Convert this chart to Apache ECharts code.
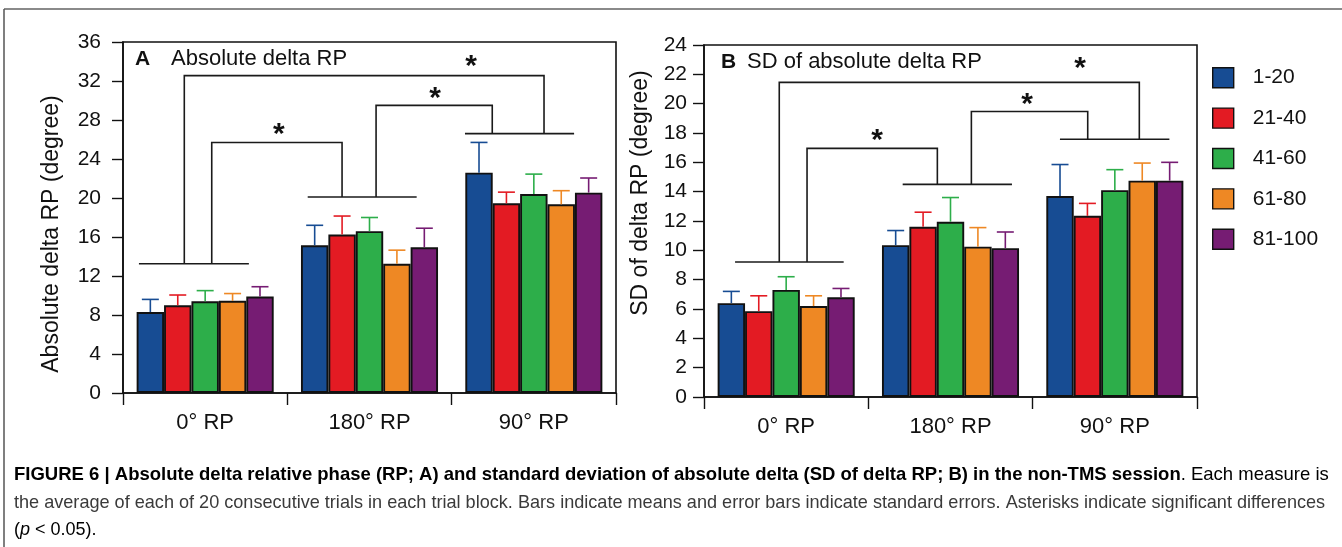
<!DOCTYPE html>
<html>
<head>
<meta charset="utf-8">
<script src="https://cdn.jsdelivr.net/npm/echarts@6/dist/echarts.min.js"></script>
<style>html,body{margin:0;padding:0;background:#fff}#c{width:1342px;height:547px}</style>
</head>
<body>
<div id="c"></div>
<script>
// ---------- data ----------
const categories = ['0° RP', '180° RP', '90° RP'];
const blockNames = ['1-20', '21-40', '41-60', '61-80', '81-100'];
const blockColors = ['#174c93', '#e31b23', '#2dae4a', '#ee8824', '#761c73'];

// Panel A: Absolute delta RP (means, standard errors)
const meanA_1_20   = [8.3, 15.15, 22.6];
const meanA_21_40  = [9.0, 16.25, 19.45];
const meanA_41_60  = [9.4, 16.6, 20.4];
const meanA_61_80  = [9.45, 13.25, 19.35];
const meanA_81_100 = [9.9, 14.95, 20.55];
const seA_1_20   = [1.3, 2.05, 3.1];
const seA_21_40  = [1.05, 1.9, 1.15];
const seA_41_60  = [1.1, 1.4, 2.05];
const seA_61_80  = [0.75, 1.4, 1.4];
const seA_81_100 = [1.0, 1.95, 1.5];

// Panel B: SD of absolute delta RP
const meanB_1_20   = [6.4, 10.35, 13.7];
const meanB_21_40  = [5.85, 11.6, 12.35];
const meanB_41_60  = [7.3, 11.95, 14.1];
const meanB_61_80  = [6.2, 10.25, 14.75];
const meanB_81_100 = [6.8, 10.15, 14.75];
const seB_1_20   = [0.8, 1.0, 2.15];
const seB_21_40  = [1.05, 1.0, 0.85];
const seB_41_60  = [0.9, 1.65, 1.4];
const seB_61_80  = [0.7, 1.3, 1.2];
const seB_81_100 = [0.6, 1.1, 1.25];

// y-axis ticks
const yTicksA = [0, 4, 8, 12, 16, 20, 24, 28, 32, 36];
const yTicksB = [0, 2, 4, 6, 8, 10, 12, 14, 16, 18, 20, 22, 24];

// significance brackets (x in category units, y in data units)
// group lines: [xStart, xEnd, y]
const groupLinesA = [[-0.403, 0.266, 13.26], [0.624, 1.287, 20.1], [1.581, 2.245, 26.6]];
const groupLinesB = [[-0.311, 0.35, 9.2], [0.709, 1.374, 14.5], [1.666, 2.332, 17.57]];
// brackets: [xLeft, yLeftBottom, xRight, yRightBottom, yTop]
const bracketsA = [[0.04, 13.26, 0.833, 20.1, 25.7], [1.04, 20.1, 1.747, 26.6, 29.5], [-0.127, 13.26, 2.062, 26.6, 32.55]];
const bracketsB = [[0.127, 9.2, 0.92, 14.5, 16.95], [1.127, 14.5, 1.835, 17.57, 19.47], [-0.042, 9.2, 2.149, 17.57, 21.45]];
// asterisks: [x, y]
const starsA = [[0.449, 27.2], [1.399, 30.9], [1.618, 34.1]];
const starsB = [[0.553, 17.9], [1.466, 20.35], [1.788, 22.8]];

// ---------- build ----------
const meansA = [meanA_1_20, meanA_21_40, meanA_41_60, meanA_61_80, meanA_81_100];
const sesA = [seA_1_20, seA_21_40, seA_41_60, seA_61_80, seA_81_100];
const meansB = [meanB_1_20, meanB_21_40, meanB_41_60, meanB_61_80, meanB_81_100];
const sesB = [seB_1_20, seB_21_40, seB_41_60, seB_61_80, seB_81_100];

const FONT = "'Liberation Sans', Arial, Helvetica, sans-serif";
const GAP = 0.166; // bar category gap fraction

function errRender(idx, color) {
  return function (params, api) {
    const ci = api.value(0), m = api.value(1), e = api.value(2);
    const band = api.size([1, 0])[0];
    const base = api.coord([ci, m]);
    const top = api.coord([ci, m + e]);
    const groupW = band * (1 - GAP);
    const bw = groupW / blockNames.length;
    const x = base[0] - groupW / 2 + (idx + 0.5) * bw;
    const cap = bw * 0.31;
    return {
      type: 'group',
      children: [
        { type: 'line', shape: { x1: x, y1: base[1], x2: x, y2: top[1] }, style: { stroke: color, lineWidth: 1.6 } },
        { type: 'line', shape: { x1: x - cap, y1: top[1], x2: x + cap, y2: top[1] }, style: { stroke: color, lineWidth: 1.6 } }
      ]
    };
  };
}

function groupLineRender(params, api) {
  const band = api.size([1, 0])[0];
  const y0 = api.coord([0, api.value(2)]);
  const x0 = api.coord([0, 0])[0];
  return { type: 'line', shape: { x1: x0 + api.value(0) * band, y1: y0[1], x2: x0 + api.value(1) * band, y2: y0[1] },
    style: { stroke: '#1a1a1a', lineWidth: 1.6 } };
}
function bracketRender(params, api) {
  const band = api.size([1, 0])[0];
  const x0 = api.coord([0, 0])[0];
  const xl = x0 + api.value(0) * band, xr = x0 + api.value(2) * band;
  const yl = api.coord([0, api.value(1)])[1], yr = api.coord([0, api.value(3)])[1], yt = api.coord([0, api.value(4)])[1];
  return { type: 'polyline', shape: { points: [[xl, yl], [xl, yt], [xr, yt], [xr, yr]] },
    style: { stroke: '#1a1a1a', lineWidth: 1.6, fill: null } };
}
function starRender(params, api) {
  const band = api.size([1, 0])[0];
  const x0 = api.coord([0, 0])[0];
  const x = x0 + api.value(0) * band;
  const y = api.coord([0, api.value(1)])[1];
  const fs = 30;
  return { type: 'text', style: { text: '*', x: x, y: y + 0.22 * fs, font: 'bold ' + fs + 'px ' + FONT,
    textAlign: 'center', textVerticalAlign: 'middle', fill: '#111' } };
}

const series = [];
[[meansA, sesA, 0, groupLinesA, bracketsA, starsA], [meansB, sesB, 1, groupLinesB, bracketsB, starsB]].forEach(([means, ses, g, gl, br, st]) => {
  blockNames.forEach((name, i) => {
    series.push({
      type: 'bar', name: name, xAxisIndex: g, yAxisIndex: g,
      data: means[i], barGap: '0%', barCategoryGap: (GAP * 100) + '%',
      itemStyle: { color: blockColors[i], borderColor: '#111', borderWidth: 1.9 },
      emphasis: { disabled: true }, z: 2
    });
  });
  blockNames.forEach((name, i) => {
    series.push({
      type: 'custom', name: name, xAxisIndex: g, yAxisIndex: g,
      data: means[i].map((m, k) => [k, m, ses[i][k]]),
      encode: { x: 0, y: 1 }, renderItem: errRender(i, blockColors[i]), z: 3, silent: true
    });
  });
  series.push({ type: 'custom', xAxisIndex: g, yAxisIndex: g, data: gl, renderItem: groupLineRender, encode: { x: 0, y: 2 }, z: 4, silent: true });
  series.push({ type: 'custom', xAxisIndex: g, yAxisIndex: g, data: br, renderItem: bracketRender, encode: { x: 0, y: 4 }, z: 4, silent: true });
  series.push({ type: 'custom', xAxisIndex: g, yAxisIndex: g, data: st, renderItem: starRender, encode: { x: 0, y: 1 }, z: 4, silent: true });
});

function xAxisCfg(g, margin) {
  return {
    type: 'category', gridIndex: g, data: categories, boundaryGap: true,
    axisLine: { lineStyle: { color: '#111', width: 1.6 } },
    axisTick: { show: true, inside: false, length: 12, interval: 0, lineStyle: { color: '#111', width: 1.4 } },
    axisLabel: { color: '#111', fontSize: 22, fontFamily: FONT, margin: margin, interval: 0 },
    splitLine: { show: false }
  };
}
function yAxisCfg(g, ticks, margin) {
  return {
    type: 'value', gridIndex: g, min: ticks[0], max: ticks[ticks.length - 1], interval: ticks[1] - ticks[0],
    axisLine: { show: true, lineStyle: { color: '#111', width: 1.6 } },
    axisTick: { show: true, inside: false, length: 11, lineStyle: { color: '#111', width: 1.4 } },
    axisLabel: { color: '#111', fontSize: 21, fontFamily: FONT, margin: margin },
    splitLine: { show: false }
  };
}

const chart = echarts.init(document.getElementById('c'), null, { renderer: 'canvas' });
chart.setOption({
  backgroundColor: '#fff',
  animation: false,
  grid: [
    { left: 123, top: 42, width: 493, height: 351, show: true, borderColor: '#111', borderWidth: 1.6, backgroundColor: 'transparent' },
    { left: 704, top: 45, width: 493, height: 352, show: true, borderColor: '#111', borderWidth: 1.6, backgroundColor: 'transparent' }
  ],
  xAxis: [xAxisCfg(0, 19), xAxisCfg(1, 19)],
  yAxis: [yAxisCfg(0, yTicksA, 22), yAxisCfg(1, yTicksB, 17)],
  legend: {
    data: blockNames, orient: 'vertical', left: 1207, top: 62,
    itemWidth: 21, itemHeight: 20, itemGap: 19, icon: 'rect',
    itemStyle: { borderColor: '#111', borderWidth: 1.4 },
    textStyle: { fontSize: 21, fontFamily: FONT, color: '#111', padding: [0, 0, 0, 14] },
    selectedMode: false
  },
  series: series,
  graphic: [
    { type: 'line', shape: { x1: 4, y1: 9, x2: 1342, y2: 9 }, style: { stroke: '#8a8a8a', lineWidth: 2 }, silent: true },
    { type: 'line', shape: { x1: 4, y1: 9, x2: 4, y2: 547 }, style: { stroke: '#555', lineWidth: 1.5 }, silent: true },
    { type: 'text', x: 135, y: 59, style: { text: 'A', font: 'bold 21px ' + FONT, fill: '#111', textVerticalAlign: 'middle' } },
    { type: 'text', x: 171, y: 59, style: { text: 'Absolute delta RP', font: '22px ' + FONT, fill: '#111', textVerticalAlign: 'middle' } },
    { type: 'text', x: 721, y: 62, style: { text: 'B', font: 'bold 21px ' + FONT, fill: '#111', textVerticalAlign: 'middle' } },
    { type: 'text', x: 747, y: 62, style: { text: 'SD of absolute delta RP', font: '22px ' + FONT, fill: '#111', textVerticalAlign: 'middle' } },
    { type: 'text', x: 52, y: 234, rotation: Math.PI / 2, style: { text: 'Absolute delta RP (degree)', font: '23px ' + FONT, fill: '#111', textAlign: 'center', textVerticalAlign: 'middle' } },
    { type: 'text', x: 641, y: 193, rotation: Math.PI / 2, style: { text: 'SD of delta RP (degree)', font: '23px ' + FONT, fill: '#111', textAlign: 'center', textVerticalAlign: 'middle' } },
    { type: 'text', x: 14, y: 475, style: {
        text: '{b|FIGURE 6 | Absolute delta relative phase (RP; A) and standard deviation of absolute delta (SD of delta RP; B) in the non-TMS session}{n|. Each measure is}',
        textVerticalAlign: 'middle',
        rich: { b: { fontFamily: FONT, fontWeight: 'bold', fontSize: 18.5, color: '#231f20' }, n: { fontFamily: FONT, fontSize: 18.5, color: '#3a3a3a' } } } },
    { type: 'text', x: 14, y: 503, style: {
        text: 'the average of each of 20 consecutive trials in each trial block. Bars indicate means and error bars indicate standard errors. Asterisks indicate significant differences',
        font: '18.1px ' + FONT, fill: '#3a3a3a', textVerticalAlign: 'middle' } },
    { type: 'text', x: 14, y: 530, style: {
        text: '{n|(}{i|p}{n| < 0.05).}', textVerticalAlign: 'middle',
        rich: { n: { fontFamily: FONT, fontSize: 18, color: '#3a3a3a' }, i: { fontFamily: FONT, fontSize: 18, fontStyle: 'italic', color: '#3a3a3a' } } } }
  ]
});
</script>
</body>
</html>
